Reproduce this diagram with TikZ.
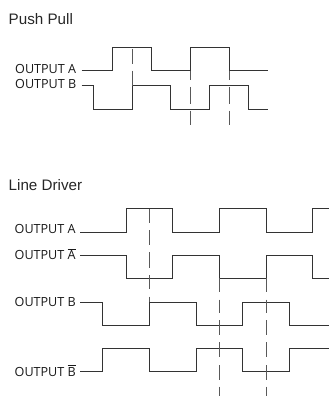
\documentclass[tikz,border=0pt]{standalone}
\usepackage{fontspec}
\setmainfont{Liberation Sans}
\newfontfamily\opensans{Open Sans}
\newcommand{\barletter}[1]{$\overline{\hbox{#1}}$}
\tikzset{
  x=1pt,y=-1pt,
  wave/.style={draw=black!80,line width=0.75pt,line join=miter},
  guide/.style={draw=black!65,line width=0.75pt},
  heading/.style={anchor=base west,inner sep=0pt,font=\fontsize{15.2}{17}\selectfont,text=black!85},
  siglabel/.style={anchor=base west,inner sep=0pt,font=\opensans\fontsize{12.6}{14}\selectfont,text=black!90}
}
\begin{document}
\begin{tikzpicture}
\useasboundingbox (0,0) rectangle (329,398);
\node[heading] (pp) at (8.5,25) {Push Pull};
\node[heading] (ld) at (8.5,190.5) {Line Driver};
\node[siglabel] (a1) at (15,74) {OUTPUT A};
\node[siglabel] (b1) at (15,88.5) {OUTPUT B};
\node[siglabel] (a2) at (14.5,233) {OUTPUT A};
\node[siglabel] (a3) at (14.5,259.3) {OUTPUT \barletter{A}};
\node[siglabel] (b2) at (14.5,306) {OUTPUT B};
\node[siglabel] (b3) at (14.5,376) {OUTPUT \barletter{B}};
% push pull
\path[wave] (81.7,70.7) -- (112.7,70.7) |- (151.7,47.3) |- (190,70.7) |- (229,47.3) |- (267.7,70.7);
\path[wave] (81.7,85.7) -- (93,85.7) |- (132,109) |- (170.7,85.7) |- (209.3,109) |- (248.3,85.7) |- (267.7,109);
\foreach \s/\e in {49/64,70.7/85.7}{\path[guide] (132,\s) -- (132,\e);}
\foreach \x in {190,229}{\foreach \s/\e in {70.7/80,87/104,110.7/125}{\path[guide] (\x,\s) -- (\x,\e);}}
% line driver
\path[wave] (80,232) -- (126,232) |- (172.7,208.7) |- (219.3,232) |- (266,208.7) |- (312.7,232) |- (329,208.7);
\path[wave] (80,255.3) -- (126,255.3) |- (172.7,278.3) |- (219.3,255.3) |- (266,278.3) |- (312.7,255.3) |- (329,278.3);
\path[wave] (80,302) -- (102.7,302) |- (149.3,325) |- (196,302) |- (242.7,325) |- (289.3,302) |- (329,325);
\path[wave] (80,371.7) -- (102.7,371.7) |- (149.3,348.3) |- (196,371.7) |- (242.7,348.3) |- (289.3,371.7) |- (329,348.3);
\foreach \s/\e in {209/223.3,230/245,252.3/268,275/289.3,296.7/302}{\path[guide] (149.3,\s) -- (149.3,\e);}
\foreach \x in {219.3,266}{\foreach \s/\e in {278.3/291.7,299.5/313.3,320/335,342/357.3,365/380,386.7/395.7}{\path[guide] (\x,\s) -- (\x,\e);}}
\end{tikzpicture}
\end{document}
